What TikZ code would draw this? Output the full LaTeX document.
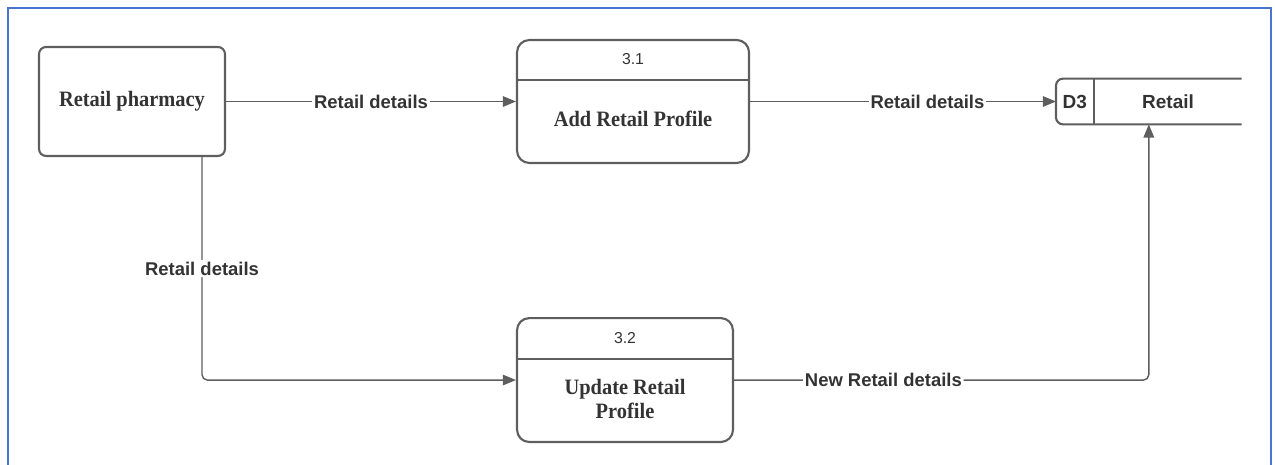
\documentclass[tikz,border=0pt]{standalone}
\usepackage{fontspec}
\setmainfont{Liberation Serif}
\setsansfont{Liberation Sans}
\newfontfamily\boxfont[FakeStretch=0.93]{Liberation Serif}
\usepackage{tikz}
\usetikzlibrary{arrows.meta,positioning,calc}
\usepackage{xcolor}
\definecolor{lineGray}{RGB}{94,94,94}
\definecolor{textGray}{RGB}{51,51,51}
\definecolor{frameBlue}{RGB}{72,118,206}

\begin{document}
\begin{tikzpicture}[
      x=0.02cm, y=-0.02cm,
      every node/.style={text=textGray},
      entity/.style={rectangle, rounded corners=4pt, draw=lineGray, line width=1.2pt,
                     minimum width=3.72cm, minimum height=2.18cm, align=center,
                     font=\boxfont\bfseries\fontsize{12.5}{15}\selectfont},
      procbox/.style={rectangle, rounded corners=7pt, draw=lineGray, line width=1.2pt,
                      minimum width=4.64cm, minimum height=2.46cm, inner sep=0pt},
      procnum/.style={minimum height=0.8cm, inner sep=0pt,
                      font=\sffamily\fontsize{9}{11}\selectfont},
      proctitle/.style={inner sep=0pt, align=center,
                        font=\boxfont\bfseries\fontsize{12.5}{13.2}\selectfont},
      storetext/.style={minimum height=0.9cm, inner sep=0pt,
                        font=\sffamily\bfseries\fontsize{10.8}{12}\selectfont},
      flowlabel/.style={fill=white, inner sep=1pt,
                        font=\sffamily\bfseries\fontsize{10.5}{12}\selectfont},
      arr/.style={-{Triangle[length=7.5pt,width=6pt]}, lineGray, line width=0.8pt},
      boxline/.style={lineGray, line width=1.2pt},
    ]
    \useasboundingbox (0,0) rectangle (1275,465);

    % Frame
    \draw[frameBlue, line width=1pt] (8,465) -- (8,8) -- (1271,8) -- (1271,465);

    % External entity
    \node[entity] (pharm) at (132,101.5) {Retail pharmacy};

    % Process 3.1
    \node[procbox, right=5.80cm of pharm] (proc1) {};
    \node[procnum, minimum width=4.64cm, below=0pt of proc1.north] (num1) {3.1};
    \draw[boxline] (num1.south west) -- (num1.south east);
    \node[proctitle] (title1) at ($(num1.south)!0.5!(proc1.south)+(0,-3)$) {Add Retail Profile};

    % Process 3.2
    \node[procbox, minimum width=4.32cm, minimum height=2.48cm,
          below right=3.06cm and 0cm of proc1.south west] (proc2) {};
    \node[procnum, minimum width=4.32cm, minimum height=0.82cm, below=0pt of proc2.north] (num2) {3.2};
    \draw[boxline] (num2.south west) -- (num2.south east);
    \node[proctitle] (title2) at ($(num2.south)!0.5!(proc2.south)+(0,-2)$) {Update Retail\\Profile};

    % Data store D3
    \node[minimum width=3.7cm, minimum height=0.9cm, inner sep=0pt, right=6.12cm of proc1] (store) {};
    \node[storetext, minimum width=0.74cm, anchor=west] (d3) at (store.west) {D3};
    \node[storetext, minimum width=2.96cm, right=0pt of d3] (retail) {Retail};
    \draw[boxline, rounded corners=4pt] (store.north east) -- (store.north west)
      -- (store.south west) -- (store.south east);
    \draw[boxline] (d3.north east) -- (d3.south east);

    % Flows
    \coordinate (drop) at ($(pharm.south east)+(-24,0)$);
    \draw[arr] (pharm.east) -- (proc1.west) node[flowlabel, midway] {Retail details};
    \draw[arr] (proc1.east) -- (store.west) node[flowlabel, pos=0.58] {Retail details};
    \draw[arr, rounded corners=3pt] (drop) |- (proc2.west) node[flowlabel, pos=0.25] {Retail details};
    \draw[arr, rounded corners=3pt] (proc2.east) -| (store.south) node[flowlabel, pos=0.18] {New Retail details};
  \end{tikzpicture}
\end{document}
